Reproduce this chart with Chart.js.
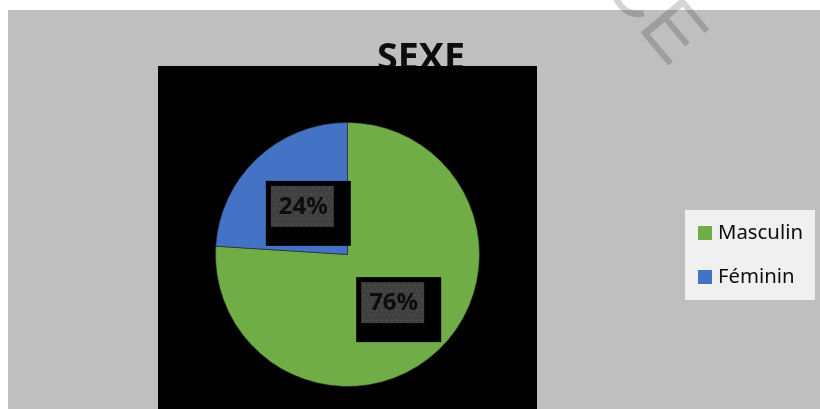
<!DOCTYPE html>
<html>
<head>
<meta charset="utf-8">
<script src="https://cdn.jsdelivr.net/npm/chart.js@4/dist/chart.umd.min.js"></script>
<style>
html,body{margin:0;padding:0;background:#fff;}
canvas{display:block;}
</style>
</head>
<body>
<canvas id="c" width="820" height="409"></canvas>
<script>
const title = 'SEXE';
const categories = ['Masculin', 'Féminin'];
const values = [76, 24];
const colors = ['#70ad47', '#4472c4'];

const decor = {
  id: 'decor',
  beforeDraw(chart) {
    const ctx = chart.ctx;
    ctx.save();
    ctx.fillStyle = '#ffffff';
    ctx.fillRect(0, 0, 820, 409);
    ctx.fillStyle = '#bfbfbf';
    ctx.fillRect(8, 10, 812, 399);
    // title
    ctx.fillStyle = '#0d0d0d';
    let fs = 34;
    ctx.font = 'bold ' + fs + 'px "Open Sans"';
    const w = ctx.measureText(title).width;
    fs = fs * 88 / w;
    ctx.font = 'bold ' + fs + 'px "Open Sans"';
    ctx.textAlign = 'center';
    ctx.textBaseline = 'alphabetic';
    ctx.fillText(title, 421, 43 + fs * 0.714);
    // black plot rectangle
    ctx.fillStyle = '#000000';
    ctx.fillRect(158, 66, 379, 343);
    ctx.restore();
  },
  afterDatasetsDraw(chart) {
    const ctx = chart.ctx;
    const meta = chart.getDatasetMeta(0);
    const total = values.reduce((a, b) => a + b, 0);
    ctx.save();
    meta.data.forEach((arc, i) => {
      const p = arc.tooltipPosition();
      const cx = p.x, cy = p.y;
      ctx.fillStyle = '#000';
      ctx.fillRect(cx - 36.5, cy - 25.5, 85, 65);
      ctx.fillStyle = '#404040';
      ctx.fillRect(cx - 31.5, cy - 20.5, 63, 41);
      ctx.fillStyle = '#595959';
      for (let yy = cy - 18; yy < cy + 20; yy += 5) {
        for (let xx = cx - 29 + ((Math.round((yy - cy) / 5)) % 2 ? 2.5 : 0); xx < cx + 31; xx += 5) {
          ctx.fillRect(xx, yy, 1.3, 1.3);
        }
      }
      const pct = Math.round(values[i] / total * 100) + '%';
      ctx.fillStyle = '#0d0d0d';
      ctx.font = 'bold 24px "Open Sans"';
      ctx.textAlign = 'center';
      ctx.textBaseline = 'middle';
      ctx.fillText(pct, cx + 1, cy + 1);
    });
    // legend
    ctx.fillStyle = '#f0f0f0';
    ctx.fillRect(685, 210, 130, 90);
    let lfs = 18;
    ctx.font = lfs + 'px "Noto Sans"';
    const mw = ctx.measureText(categories[0]).width;
    lfs = lfs * 85 / mw;
    ctx.font = lfs + 'px "Noto Sans"';
    ctx.textAlign = 'left';
    ctx.textBaseline = 'middle';
    categories.forEach((c, i) => {
      const y = 233 + i * 44;
      ctx.fillStyle = colors[i];
      ctx.fillRect(698, y - 7, 14, 14);
      ctx.fillStyle = '#0d0d0d';
      ctx.fillText(c, 718, y);
    });
    // watermark
    ctx.translate(640, 32);
    ctx.rotate(50 * Math.PI / 180);
    ctx.fillStyle = 'rgba(0,0,0,0.17)';
    ctx.font = '80px "Liberation Sans"';
    ctx.textAlign = 'left';
    ctx.textBaseline = 'alphabetic';
    const cw = ctx.measureText('C').width;
    ctx.fillText('CE', -cw - 6, 0);
    ctx.restore();
  }
};

new Chart(document.getElementById('c'), {
  type: 'pie',
  data: {
    labels: categories,
    datasets: [{
      data: values,
      backgroundColor: colors,
      borderColor: 'rgba(40,40,40,0.6)',
      borderWidth: 1
    }]
  },
  options: {
    responsive: false,
    animation: false,
    layout: { padding: { left: 215, right: 340, top: 122, bottom: 22 } },
    plugins: {
      legend: { display: false },
      tooltip: { enabled: false },
      title: { display: false }
    }
  },
  plugins: [decor]
});
</script>
</body>
</html>
